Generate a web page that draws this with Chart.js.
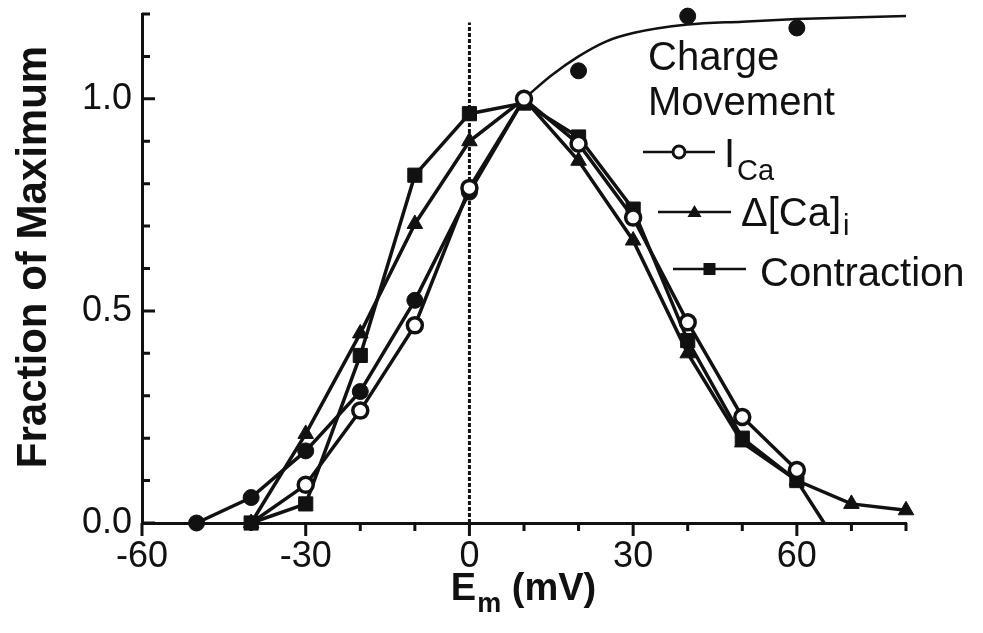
<!DOCTYPE html>
<html>
<head>
<meta charset="utf-8">
<title>Fraction of Maximum vs Em</title>
<script src="https://cdn.jsdelivr.net/npm/chart.js@4.4.1/dist/chart.umd.min.js"></script>
<style>
html, body { margin: 0; padding: 0; background: #fff; }
#wrap { width: 983px; height: 633px; }
</style>
</head>
<body>
<div id="wrap"><canvas id="myChart" width="983" height="633"></canvas></div>
<script>
// Em (mV) and fraction of maximum

// charge movement, joined points up to the peak
var cmX = [-50, -40, -30, -20, -10, 0, 10];
var cmY = [0.0, 0.06, 0.17, 0.31, 0.525, 0.78, 1.0];
// charge movement points past the peak (not joined)
var cmExtraX = [20, 40, 60];
var cmExtraY = [1.066, 1.195, 1.167];
// smooth fit through the charge movement
var fitX = [10, 15, 20, 25, 30, 40, 50, 60, 70, 80];
var fitY = [1.0, 1.055, 1.10, 1.135, 1.155, 1.175, 1.182, 1.188, 1.192, 1.195];

// I_Ca (open circles)
var icaX = [-40, -30, -20, -10, 0, 10, 20, 30, 40, 50, 60];
var icaY = [0.0, 0.09, 0.265, 0.466, 0.79, 1.0, 0.894, 0.72, 0.473, 0.25, 0.125];

// delta [Ca]i (triangles)
var caX = [-40, -30, -20, -10, 0, 10, 20, 30, 40, 50, 60, 70, 80];
var caY = [0.0, 0.21, 0.447, 0.705, 0.90, 1.0, 0.854, 0.666, 0.40, 0.19, 0.10, 0.045, 0.03];

// contraction (squares)
var conX = [-40, -30, -20, -10, 0, 10, 20, 30, 40, 50, 60, 65];
var conY = [0.0, 0.045, 0.395, 0.82, 0.965, 0.99, 0.91, 0.74, 0.43, 0.2, 0.10, 0.0];

// dashed line at 0 mV
var zeroX = [0, 0];
var zeroY = [0, 1.18];

// labelled ticks
var xTicks = [-60, -30, 0, 30, 60];
var yTicks = [0.0, 0.5, 1.0];

var INK = '#111';

function pts(xs, ys) {
  return xs.map(function (x, i) { return { x: x, y: ys[i] }; });
}
function hasTick(list, v) {
  return list.some(function (t) { return Math.abs(t - v) < 1e-6; });
}

// tick marks: x ticks point down, y ticks point into the plot
var tickMarks = {
  id: 'tickMarks',
  afterDraw: function (chart) {
    var ctx = chart.ctx, xs = chart.scales.x, ys = chart.scales.y;
    var area = chart.chartArea;
    ctx.save();
    ctx.strokeStyle = INK;
    ctx.lineWidth = 3;
    ctx.beginPath();
    xs.ticks.forEach(function (t) {
      var px = xs.getPixelForValue(t.value);
      var len = hasTick(xTicks, t.value) ? 13 : 8;
      ctx.moveTo(px, area.bottom);
      ctx.lineTo(px, area.bottom + len);
    });
    ys.ticks.forEach(function (t) {
      var py = ys.getPixelForValue(t.value);
      var len = hasTick(yTicks, t.value) ? 13 : 8;
      ctx.moveTo(area.left, py);
      ctx.lineTo(area.left + len, py);
    });
    ctx.stroke();
    ctx.restore();
  }
};

// axis titles (x title needs a subscript)
var axisTitles = {
  id: 'axisTitles',
  afterDraw: function (chart) {
    var ctx = chart.ctx;
    ctx.save();
    ctx.fillStyle = INK;

    ctx.save();
    ctx.translate(34, 257);
    ctx.rotate(-Math.PI / 2);
    ctx.font = 'bold 42px "Liberation Sans", Arial, sans-serif';
    ctx.textAlign = 'center';
    ctx.textBaseline = 'middle';
    ctx.fillText('Fraction of Maximum', 0, 0);
    ctx.restore();

    var big = 'bold 38px "Liberation Sans", Arial, sans-serif';
    var small = 'bold 27px "Liberation Sans", Arial, sans-serif';
    ctx.textBaseline = 'alphabetic';
    ctx.font = big;
    var wE = ctx.measureText('E').width;
    var wRest = ctx.measureText(' (mV)').width;
    ctx.font = small;
    var wM = ctx.measureText('m').width;
    var x0 = 523 - (wE + wM + wRest) / 2;
    ctx.font = big;
    ctx.fillText('E', x0, 600);
    ctx.font = small;
    ctx.fillText('m', x0 + wE + 1, 612);
    ctx.font = big;
    ctx.fillText(' (mV)', x0 + wE + wM + 1, 600);
    ctx.restore();
  }
};

// hand-set legend block in the upper right
function marker(ctx, style, x, y) {
  ctx.beginPath();
  if (style === 'circle') {
    ctx.arc(x, y, 6, 0, Math.PI * 2);
    ctx.fillStyle = '#fff';
    ctx.fill();
    ctx.lineWidth = 3;
    ctx.stroke();
  } else if (style === 'triangle') {
    ctx.moveTo(x, y - 7);
    ctx.lineTo(x + 7, y + 5);
    ctx.lineTo(x - 7, y + 5);
    ctx.closePath();
    ctx.fillStyle = INK;
    ctx.fill();
  } else {
    ctx.rect(x - 6, y - 6, 12, 12);
    ctx.fillStyle = INK;
    ctx.fill();
  }
}
var figLegend = {
  id: 'figLegend',
  afterDraw: function (chart) {
    var ctx = chart.ctx;
    var font = '40px "Liberation Sans", Arial, sans-serif';
    var sub = '29px "Liberation Sans", Arial, sans-serif';
    ctx.save();
    ctx.fillStyle = INK;
    ctx.strokeStyle = INK;
    ctx.font = font;
    ctx.textBaseline = 'alphabetic';
    ctx.fillText('Charge', 648, 70);
    ctx.fillText('Movement', 648, 115);

    var rows = [
      { x1: 643, x2: 715, y: 152, style: 'circle', main: 'I', sub: 'Ca', tx: 724, base: 167, subDrop: 13 },
      { x1: 658, x2: 731, y: 212, style: 'triangle', main: '\u0394[Ca]', sub: 'i', tx: 741, base: 226, subDrop: 9 },
      { x1: 673, x2: 746, y: 269, style: 'rect', main: 'Contraction', sub: '', tx: 760, base: 286, subDrop: 0 }
    ];
    rows.forEach(function (r) {
      ctx.strokeStyle = INK;
      ctx.lineWidth = 2.5;
      ctx.beginPath();
      ctx.moveTo(r.x1, r.y);
      ctx.lineTo(r.x2, r.y);
      ctx.stroke();
      marker(ctx, r.style, (r.x1 + r.x2) / 2, r.y);
      ctx.fillStyle = INK;
      ctx.font = font;
      ctx.fillText(r.main, r.tx, r.base);
      if (r.sub) {
        var w = ctx.measureText(r.main).width;
        ctx.font = sub;
        ctx.fillText(r.sub, r.tx + w + 2, r.base + r.subDrop);
      }
    });
    ctx.restore();
  }
};

var ctx = document.getElementById('myChart').getContext('2d');

var myChart = new Chart(ctx, {
  type: 'scatter',
  data: {
    datasets: [
      {
        label: 'I Ca',
        data: pts(icaX, icaY),
        showLine: true,
        borderColor: INK,
        borderWidth: 3.5,
        pointStyle: 'circle',
        pointRadius: function (c) { return c.raw && c.raw.y === 0 ? 0 : 7.5; },
        pointBorderWidth: 3.5,
        pointBorderColor: INK,
        pointBackgroundColor: '#fff',
        clip: false
      },
      {
        label: '\u0394[Ca]i',
        data: pts(caX, caY),
        showLine: true,
        borderColor: INK,
        borderWidth: 3.5,
        pointStyle: 'triangle',
        pointRadius: 9,
        pointBorderWidth: 1,
        pointBorderColor: INK,
        pointBackgroundColor: INK,
        clip: false
      },
      {
        label: 'Contraction',
        data: pts(conX, conY),
        showLine: true,
        borderColor: INK,
        borderWidth: 3.5,
        pointStyle: 'rect',
        pointRadius: function (c) { return c.raw && c.raw.x % 10 !== 0 ? 0 : 10; },
        pointBorderWidth: 1,
        pointBorderColor: INK,
        pointBackgroundColor: INK,
        clip: false
      },
      {
        label: 'Charge Movement',
        data: pts(cmX, cmY),
        showLine: true,
        borderColor: INK,
        borderWidth: 3.5,
        pointStyle: 'circle',
        pointRadius: 8,
        pointBorderWidth: 1,
        pointBorderColor: INK,
        pointBackgroundColor: INK,
        clip: false
      },
      {
        label: 'Charge Movement (past peak)',
        data: pts(cmExtraX, cmExtraY),
        showLine: false,
        pointStyle: 'circle',
        pointRadius: 8,
        pointBorderWidth: 1,
        pointBorderColor: INK,
        pointBackgroundColor: INK,
        clip: false
      },
      {
        label: 'fit',
        data: pts(fitX, fitY),
        showLine: true,
        borderColor: INK,
        borderWidth: 2.5,
        cubicInterpolationMode: 'monotone',
        pointRadius: 0,
        clip: false
      },
      {
        label: '0 mV',
        data: pts(zeroX, zeroY),
        showLine: true,
        borderColor: INK,
        borderWidth: 3,
        borderDash: [4, 2],
        pointRadius: 0,
        clip: false
      }
    ]
  },
  options: {
    responsive: false,
    animation: false,
    layout: { padding: { top: 14, right: 77, left: 0, bottom: 0 } },
    plugins: {
      legend: { display: false },
      tooltip: { enabled: false }
    },
    scales: {
      x: {
        type: 'linear',
        min: -60,
        max: 80,
        grid: { display: false, drawTicks: false },
        border: { display: true, color: INK, width: 3 },
        ticks: {
          stepSize: 10,
          autoSkip: false,
          maxRotation: 0,
          padding: 12,
          color: INK,
          font: { family: '"Liberation Sans", Arial, sans-serif', size: 36 },
          callback: function (v) { return hasTick(xTicks, v) ? String(v) : ''; }
        },
        afterFit: function (s) { s.height = 110; s.paddingLeft = 0; s.paddingRight = 0; }
      },
      y: {
        min: 0,
        max: 1.2,
        grid: { display: false, drawTicks: false },
        border: { display: true, color: INK, width: 3 },
        ticks: {
          stepSize: 0.1,
          autoSkip: false,
          padding: 10,
          color: INK,
          font: { family: '"Liberation Sans", Arial, sans-serif', size: 36 },
          callback: function (v) { return hasTick(yTicks, v) ? v.toFixed(1) : ''; }
        },
        afterFit: function (s) { s.width = 142; s.paddingTop = 0; s.paddingBottom = 0; }
      }
    }
  },
  plugins: [tickMarks, axisTitles, figLegend]
});
</script>
</body>
</html>
